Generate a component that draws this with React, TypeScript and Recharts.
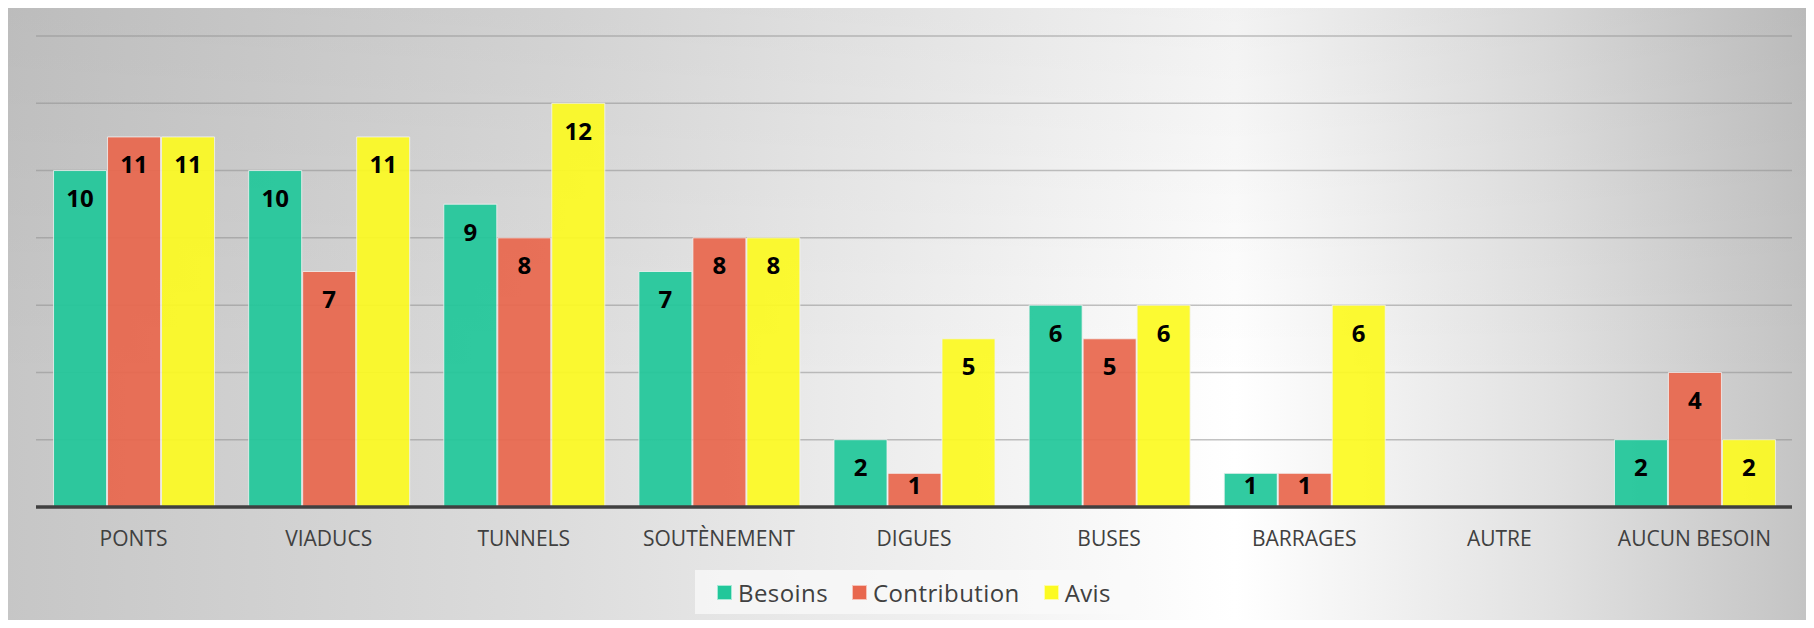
import { BarChart, Bar, XAxis, YAxis, CartesianGrid, LabelList } from 'recharts'

const categories = ['PONTS', 'VIADUCS', 'TUNNELS', 'SOUTÈNEMENT', 'DIGUES', 'BUSES', 'BARRAGES', 'AUTRE', 'AUCUN BESOIN']
const besoins = [10, 10, 9, 7, 2, 6, 1, 0, 2]
const contribution = [11, 7, 8, 8, 1, 5, 1, 0, 4]
const avis = [11, 11, 12, 8, 5, 6, 6, 0, 2]
const yTicks = [0, 2, 4, 6, 8, 10, 12, 14]

const series = [
  { key: 'besoins', label: 'Besoins', color: '#21c79a' },
  { key: 'contribution', label: 'Contribution', color: '#e8674e' },
  { key: 'avis', label: 'Avis', color: '#fcfa22' },
]

const data = categories.map((name, i) => ({
  name,
  besoins: besoins[i],
  contribution: contribution[i],
  avis: avis[i],
}))

// eslint-disable-next-line @typescript-eslint/no-explicit-any
function ValueLabel(props: any) {
  const { x, y, width, height, value } = props
  if (!value) return null
  const dy = Math.min(27, height / 2 - 6)
  return (
    <text
      x={x + width / 2}
      y={y + dy}
      textAnchor="middle"
      dominantBaseline="central"
      fontFamily="'Noto Sans', sans-serif"
      fontWeight={700}
      fontSize={24}
      fill="#000"
    >
      {value}
    </text>
  )
}

// eslint-disable-next-line @typescript-eslint/no-explicit-any
function CategoryTick(props: any) {
  const { x, y, payload } = props
  return (
    <text
      x={x}
      y={y + 31}
      textAnchor="middle"
      dominantBaseline="central"
      fontFamily="'Open Sans', sans-serif"
      fontSize={21}
      fill="#404040"
    >
      {payload.value}
    </text>
  )
}

export default function App() {
  return (
    <div style={{ position: 'relative', width: 1814, height: 628, margin: -8, overflow: 'hidden', background: '#fff' }}>
      <div
        style={{
          position: 'absolute',
          left: 5,
          top: 6,
          width: 1809,
          height: 622,
          borderTop: '2px solid #bdbdbd',
          background:
            'linear-gradient(180deg, rgba(0,0,0,0.05) 0%, rgba(0,0,0,0) 60%), linear-gradient(90deg, #c6c6c6 0%, #dcdcdc 30%, #f6f6f6 58%, #ffffff 68%, #e2e2e2 85%, #c3c3c3 100%)',
        }}
      />
      <div style={{ position: 'absolute', left: 0, top: 0 }}>
        <BarChart
          width={1814}
          height={628}
          data={data}
          margin={{ top: 36, right: 22, bottom: 91, left: 36 }}
          barCategoryGap="9%"
          barGap={1}
        >
          <CartesianGrid vertical={false} stroke="#8f8f8f" strokeOpacity={0.55} strokeWidth={1.5} />
          <YAxis hide domain={[0, 14]} ticks={yTicks} />
          <XAxis
            dataKey="name"
            height={30}
            tick={<CategoryTick />}
            tickLine={false}
            tickSize={0}
            tickMargin={0}
            axisLine={{ stroke: '#404040', strokeWidth: 3.5 }}
            interval={0}
          />
          {series.map((s) => (
            <Bar
              key={s.key}
              dataKey={s.key}
              fill={s.color}
              fillOpacity={0.93}
              stroke="#f2f2f2"
              strokeOpacity={0.8}
              strokeWidth={1}
              isAnimationActive={false}
            >
              <LabelList dataKey={s.key} content={<ValueLabel />} />
            </Bar>
          ))}
        </BarChart>
      </div>
      <div
        style={{
          position: 'absolute',
          left: 695,
          top: 570,
          width: 438,
          height: 44,
          background: 'rgba(250,250,250,0.75)',
          display: 'flex',
          alignItems: 'center',
          justifyContent: 'center',
          gap: 24,
          fontFamily: "'Open Sans', sans-serif",
          fontSize: 24,
          letterSpacing: 0.4,
          color: '#404040',
        }}
      >
        {series.map((s) => (
          <div key={s.key} style={{ display: 'flex', alignItems: 'center', gap: 6 }}>
            <span style={{ display: 'inline-block', width: 13, height: 13, background: s.color, border: '1px solid rgba(255,255,255,0.6)' }} />
            <span>{s.label}</span>
          </div>
        ))}
      </div>
    </div>
  )
}
